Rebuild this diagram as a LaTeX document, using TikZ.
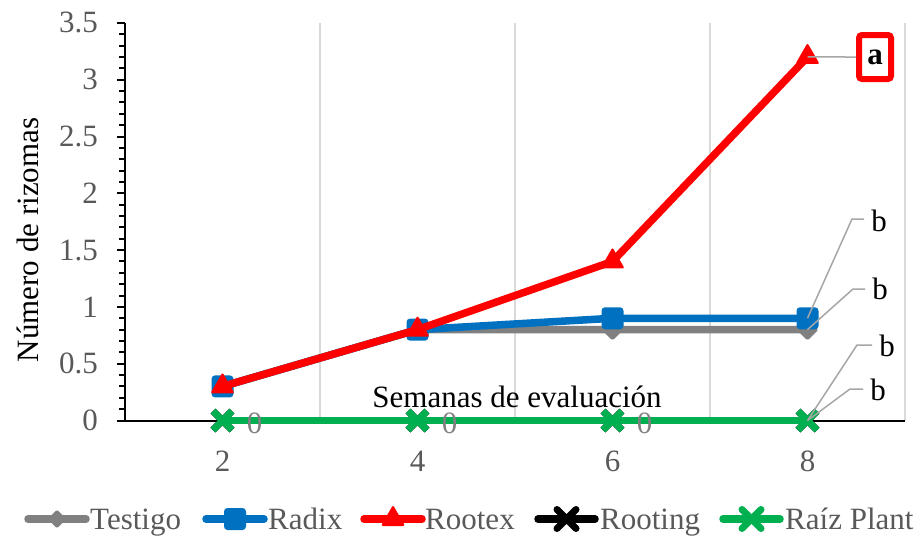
\documentclass[tikz,border=0pt]{standalone}
\usepackage{fontspec}
\setmainfont{Liberation Serif}
\usetikzlibrary{shapes}
\definecolor{xl_gray}{RGB}{128, 128, 128}
\definecolor{xl_blue}{RGB}{0, 112, 192}
\definecolor{xl_red}{RGB}{255, 0, 0}
\definecolor{xl_green}{RGB}{0, 176, 80}
\definecolor{xl_grid}{RGB}{217, 217, 217}
\definecolor{xl_text}{RGB}{89, 89, 89}
\definecolor{xl_lead}{RGB}{166, 166, 166}
\tikzstyle{serie}=[line width=7.5pt,line cap=round,line join=round]
\tikzstyle{dm}=[diamond,fill=xl_gray,inner sep=0pt,minimum width=22pt,
  minimum height=22pt,rounded corners=1.5pt]
\tikzstyle{sq}=[rectangle,fill=xl_blue,inner sep=0pt,minimum width=22pt,
  minimum height=22pt,rounded corners=3.5pt]
\tikzstyle{tr}=[regular polygon,regular polygon sides=3,fill=xl_red,
  inner sep=0pt,minimum size=28pt,rounded corners=2pt]
\tikzstyle{kx}=[cross out,draw=black,line width=7pt,inner sep=0pt,
  minimum width=12pt,minimum height=12pt]
\tikzstyle{gx}=[cross out,draw=xl_green,line width=7pt,inner sep=0pt,
  minimum width=12pt,minimum height=12pt]
\tikzstyle{ticklab}=[text=xl_text,inner sep=0pt]
\tikzstyle{zerolab}=[text=xl_gray,inner sep=0pt]
\tikzstyle{lead}=[draw=xl_lead,line width=1.5pt]
\tikzstyle{letter}=[inner sep=7pt]
\tikzstyle{leg}=[text=xl_text,anchor=base west,inner sep=0pt]

\begin{document}
\begin{tikzpicture}[x=1pt,y=-1pt,font=\fontsize{31}{36}\selectfont]
    \useasboundingbox (0,0) rectangle (922,539);
    \begin{scope}[shift={(27.5,420.5)},x=97.5pt,y=113.6pt]
      \draw [draw=xl_grid,line width=1.3pt] (3,0) -- (3,3.5) (5,0) -- (5,3.5)
        (7,0) -- (7,3.5) (9,0) -- (9,3.5);
      \foreach \i in {0,...,35}
        \draw [line width=2pt] (1,\i/10) -- ++(-6pt,0pt);
      \foreach \v [count=\n] in {0,0.5,1,1.5,2,2.5,3,3.5} {
        \draw [line width=2pt] (1,\v) -- ++(-8pt,0pt);
        \node [style=ticklab,anchor=east] (ylab\n) at ([xshift=-27pt]1,\v) {\v};
      }
      \draw [line width=2pt] (1,3.5) -- (1,0) -- (9,0);
      \foreach \w in {2,4,6,8}
        \node [style=ticklab] (xlab\w) at ([yshift=-41pt]\w,0) {\w};

      \coordinate (t2) at (2,0.3);
      \coordinate (t4) at (4,0.8);
      \coordinate (t6) at (6,0.8);
      \coordinate (t8) at (8,0.8);
      \draw [style=serie,xl_gray] (t2) -- (t4) -- (t6) -- (t8);
      \node [style=dm] (tm2) at (t2) {};
      \node [style=dm] (tm4) at (t4) {};
      \node [style=dm] (tm6) at (t6) {};
      \node [style=dm] (tm8) at (t8) {};

      \coordinate (r2) at (2,0.3);
      \coordinate (r4) at (4,0.8);
      \coordinate (r6) at (6,0.9);
      \coordinate (r8) at (8,0.9);
      \draw [style=serie,xl_blue] (r2) -- (r4) -- (r6) -- (r8);
      \node [style=sq] (rm2) at (r2) {};
      \node [style=sq] (rm4) at (r4) {};
      \node [style=sq] (rm6) at (r6) {};
      \node [style=sq] (rm8) at (r8) {};

      \coordinate (x2) at (2,0.3);
      \coordinate (x4) at (4,0.8);
      \coordinate (x6) at (6,1.4);
      \coordinate (x8) at (8,3.2);
      \draw [style=serie,xl_red] (x2) -- (x4) -- (x6) -- (x8);
      \node [style=tr] (xm2) at (x2) {};
      \node [style=tr] (xm4) at (x4) {};
      \node [style=tr] (xm6) at (x6) {};
      \node [style=tr] (xm8) at (x8) {};

      \coordinate (k2) at (2,0);
      \coordinate (k4) at (4,0);
      \coordinate (k6) at (6,0);
      \coordinate (k8) at (8,0);
      \draw [style=serie,black] (k2) -- (k4) -- (k6) -- (k8);
      \node [style=kx] (km2) at (k2) {};
      \node [style=kx] (km4) at (k4) {};
      \node [style=kx] (km6) at (k6) {};
      \node [style=kx] (km8) at (k8) {};

      \coordinate (g2) at (2,0);
      \coordinate (g4) at (4,0);
      \coordinate (g6) at (6,0);
      \coordinate (g8) at (8,0);
      \draw [style=serie,xl_green] (g2) -- (g4) -- (g6) -- (g8);
      \node [style=gx] (gm2) at (g2) {};
      \node [style=gx] (gm4) at (g4) {};
      \node [style=gx] (gm6) at (g6) {};
      \node [style=gx] (gm8) at (g8) {};

      \node [style=zerolab] (z2) at ([xshift=32pt,yshift=-3pt]2,0) {0};
      \node [style=zerolab] (z4) at ([xshift=32pt,yshift=-3pt]4,0) {0};
      \node [style=zerolab] (z6) at ([xshift=32pt,yshift=-3pt]6,0) {0};
    \end{scope}

    \node (ytitle) [rotate=90] at (28,240) {Número de rizomas};
    \node (xtitle) [anchor=base,inner sep=0pt] at (517,407) {Semanas de evaluación};

    \node [draw=xl_red,line width=6pt,rounded corners=3pt,minimum width=32pt,
      minimum height=44pt,inner sep=0pt,font=\fontsize{31}{36}\selectfont\bfseries]
      (la) at (875,57) {a};
    \draw [style=lead] (xm8.center) to (la.west);

    \node [style=letter] (lb1) at (879,221) {b};
    \node [style=letter] (lb2) at (880,289) {b};
    \node [style=letter] (lb3) at (887,346) {b};
    \node [style=letter] (lb4) at (878,390) {b};
    \coordinate (e1) at (852,219);
    \coordinate (e2) at (853,289);
    \coordinate (e3) at (857,345);
    \coordinate (e4) at (850,389);
    \draw [style=lead] (rm8.center) -- (e1) -- (e1 -| lb1.west);
    \draw [style=lead] (tm8.center) -- (e2) -- (e2 -| lb2.west);
    \draw [style=lead] (km8.center) -- (e3) -- (e3 -| lb3.west);
    \draw [style=lead] (gm8.center) -- (e4) -- (e4 -| lb4.west);

    \coordinate (la1) at (28,519);
    \coordinate (lb1e) at (86,519);
    \coordinate (la2) at (206,519);
    \coordinate (lb2e) at (264,519);
    \coordinate (la3) at (364,519);
    \coordinate (lb3e) at (422,519);
    \coordinate (la4) at (538,519);
    \coordinate (lb4e) at (595,519);
    \coordinate (la5) at (723,519);
    \coordinate (lb5e) at (780,519);
    \draw [style=serie,xl_gray] (la1) -- node [style=dm] (lm1) {} (lb1e);
    \draw [style=serie,xl_blue] (la2) -- node [style=sq] (lm2) {} (lb2e);
    \draw [style=serie,xl_red] (la3) -- node [style=tr] (lm3) {} (lb3e);
    \draw [style=serie,black] (la4) -- node [style=kx] (lm4) {} (lb4e);
    \draw [style=serie,xl_green] (la5) -- node [style=gx] (lm5) {} (lb5e);
    \node [style=leg] (lt1) at (90,529) {Testigo};
    \node [style=leg] (lt2) at (268,529) {Radix};
    \node [style=leg] (lt3) at (425,529) {Rootex};
    \node [style=leg] (lt4) at (600,529) {Rooting};
    \node [style=leg] (lt5) at (785,529) {Raíz Plant};
\end{tikzpicture}
\end{document}
